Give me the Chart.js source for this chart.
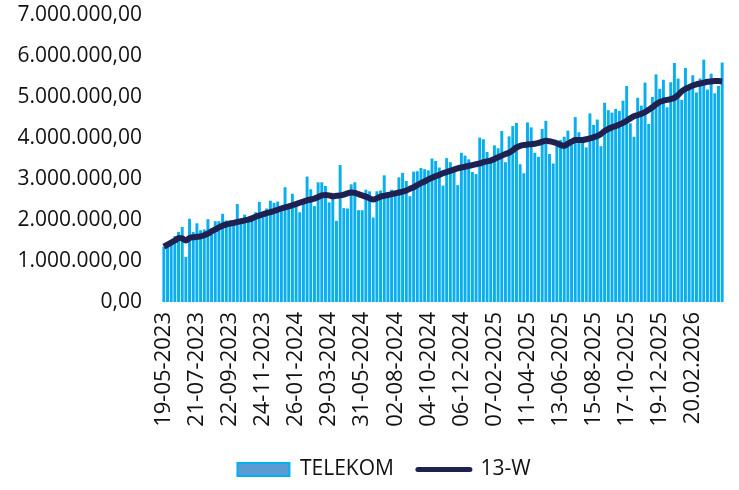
<!DOCTYPE html>
<html>
<head>
<meta charset="utf-8">
<script src="https://cdn.jsdelivr.net/npm/chart.js@4"></script>
<style>
  body { margin: 0; background: #fff; }
  #wrap { width: 739px; height: 490px; }
</style>
</head>
<body>
<div id="wrap"><canvas id="myChart"></canvas></div>
<script>
// tick labels, one every 9 weeks starting 19-05-2023
const tickLabels = [
    '19-05-2023', '21-07-2023', '22-09-2023', '24-11-2023', '26-01-2024',
    '29-03-2024', '31-05-2024', '02-08-2024', '04-10-2024', '06-12-2024',
    '07-02-2025', '11-04-2025', '13-06-2025', '15-08-2025', '17-10-2025',
    '19-12-2025', '20.02.2026'
];
const weeksPerTick = 9;

// weekly values, in millions
const telekom = [
    1.35, 1.41, 1.47, 1.61, 1.71, 1.83, 1.10, 2.03, 1.71, 1.92,
    1.75, 1.77, 2.02, 1.80, 1.97, 1.97, 2.15, 1.99, 1.99, 1.96,
    2.39, 2.00, 2.13, 2.03, 2.10, 2.19, 2.44, 2.09, 2.28, 2.47,
    2.42, 2.45, 2.21, 2.80, 2.33, 2.64, 2.38, 2.19, 2.47, 3.06,
    2.75, 2.34, 2.92, 2.92, 2.83, 2.43, 2.58, 1.98, 3.34, 2.29,
    2.28, 2.87, 2.92, 2.24, 2.24, 2.74, 2.70, 2.06, 2.70, 2.72,
    3.09, 2.66, 2.74, 2.66, 3.04, 3.15, 2.95, 2.58, 3.18, 3.19,
    3.27, 3.24, 3.21, 3.50, 3.44, 3.28, 2.84, 3.51, 3.41, 3.19,
    2.85, 3.64, 3.57, 3.48, 3.17, 3.12, 4.01, 3.97, 3.66, 3.50,
    3.82, 3.75, 4.17, 3.41, 4.04, 4.29, 4.37, 3.36, 3.14, 4.38,
    4.26, 3.64, 3.54, 4.22, 4.42, 3.61, 3.38, 3.81, 3.95, 4.03,
    4.18, 3.85, 4.51, 4.14, 3.93, 3.77, 4.60, 4.32, 4.45, 3.80,
    4.86, 4.68, 4.62, 4.71, 4.66, 4.91, 5.27, 4.36, 4.03, 4.98,
    4.79, 5.35, 4.34, 5.00, 5.55, 5.20, 5.42, 4.75, 5.36, 5.83,
    5.45, 4.93, 5.71, 5.24, 5.53, 5.11, 5.45, 5.91, 5.18, 5.57,
    5.09, 5.27, 5.84
];

// 13-W line, in millions
const avg13w = [
    1.35, 1.40, 1.45, 1.50, 1.56, 1.55, 1.50, 1.56, 1.58, 1.59,
    1.60, 1.63, 1.67, 1.72, 1.77, 1.82, 1.86, 1.89, 1.91, 1.93,
    1.95, 1.97, 1.99, 2.01, 2.04, 2.08, 2.11, 2.14, 2.17, 2.19,
    2.22, 2.25, 2.28, 2.31, 2.33, 2.36, 2.39, 2.42, 2.45, 2.48,
    2.50, 2.52, 2.56, 2.60, 2.61, 2.60, 2.58, 2.59, 2.60, 2.62,
    2.65, 2.67, 2.66, 2.63, 2.60, 2.57, 2.53, 2.50, 2.53, 2.57,
    2.59, 2.61, 2.63, 2.65, 2.67, 2.69, 2.72, 2.76, 2.80, 2.85,
    2.90, 2.94, 2.99, 3.03, 3.07, 3.10, 3.14, 3.17, 3.20, 3.23,
    3.26, 3.28, 3.30, 3.32, 3.34, 3.36, 3.38, 3.41, 3.43, 3.45,
    3.49, 3.53, 3.57, 3.61, 3.64, 3.70, 3.77, 3.81, 3.83, 3.84,
    3.85, 3.86, 3.88, 3.91, 3.93, 3.92, 3.90, 3.87, 3.83, 3.81,
    3.86, 3.91, 3.95, 3.95, 3.95, 3.97, 3.99, 4.02, 4.05, 4.10,
    4.17, 4.22, 4.26, 4.29, 4.33, 4.37, 4.42, 4.48, 4.53, 4.56,
    4.59, 4.63, 4.69, 4.75, 4.82, 4.88, 4.91, 4.93, 4.95, 4.98,
    5.05, 5.14, 5.20, 5.24, 5.28, 5.31, 5.33, 5.35, 5.37, 5.38,
    5.39, 5.39, 5.38
];

const labels = telekom.map((v, i) => i % weeksPerTick === 0 ? (tickLabels[i / weeksPerTick] || '') : '');

function formatDE(v) {
    let s = Math.round(v).toString().replace(/\B(?=(\d{3})+(?!\d))/g, '.');
    return s + ',00';
}

const font = { family: 'Open Sans', size: 22 };
const smallFont = { family: 'Open Sans', size: 21 };

// legend sits a bit right of the canvas centre in the original
const legendShift = {
    id: 'legendShift',
    afterLayout(chart) {
        chart.legend.left += 22;
        chart.legend.right += 22;
    }
};

const data = {
    labels,
    datasets: [{
        type: 'bar',
        label: 'TELEKOM',
        data: telekom.map(v => v * 1e6),
        backgroundColor: '#0aaeef',
        barPercentage: 0.8,
        categoryPercentage: 1.0,
        order: 1
    }, {
        type: 'line',
        label: '13-W',
        data: avg13w.map(v => v * 1e6),
        borderColor: '#1f2251',
        borderWidth: 6,
        pointRadius: 0,
        tension: 0.3,
        order: 0
    }]
};

const config = {
    type: 'bar',
    data,
    plugins: [legendShift],
    options: {
        responsive: true,
        maintainAspectRatio: false,
        animation: false,
        layout: { padding: { top: 0, right: 15, left: 0, bottom: 0 } },
        plugins: {
            tooltip: { enabled: false },
            legend: {
                position: 'bottom',
                labels: {
                    font: smallFont,
                    color: '#111',
                    usePointStyle: true,
                    pointStyleWidth: 52,
                    boxHeight: 13,
                    padding: 24,
                    generateLabels(chart) {
                        const items = Chart.defaults.plugins.legend.labels.generateLabels(chart);
                        items.sort((a, b) => a.datasetIndex - b.datasetIndex);
                        items[0].pointStyle = 'rect';
                        items[0].fillStyle = '#5b9bd5';
                        items[0].strokeStyle = '#00b0f0';
                        items[0].lineWidth = 2;
                        items[1].pointStyle = 'line';
                        items[1].strokeStyle = '#1f2251';
                        items[1].lineWidth = 5;
                        items[1].lineCap = 'round';
                        return items;
                    }
                }
            }
        },
        scales: {
            x: {
                grid: { display: false, drawTicks: false },
                border: { display: false },
                afterFit: s => { s.height = 133; s.paddingLeft = 0; s.paddingRight = 0; },
                ticks: {
                    font,
                    color: '#111',
                    autoSkip: false,
                    maxRotation: 90,
                    minRotation: 90,
                    padding: 10
                }
            },
            y: {
                min: 0,
                max: 7000000,
                grid: { display: false, drawTicks: false },
                border: { display: false },
                afterFit: s => { s.width = 162; s.paddingTop = 15; s.paddingBottom = 0; },
                ticks: {
                    font: smallFont,
                    color: '#111',
                    stepSize: 1000000,
                    padding: 20,
                    callback: v => formatDE(v)
                }
            }
        }
    }
};

const ctx = document.getElementById('myChart');
const Mychart = new Chart(ctx, config);
</script>
</body>
</html>
